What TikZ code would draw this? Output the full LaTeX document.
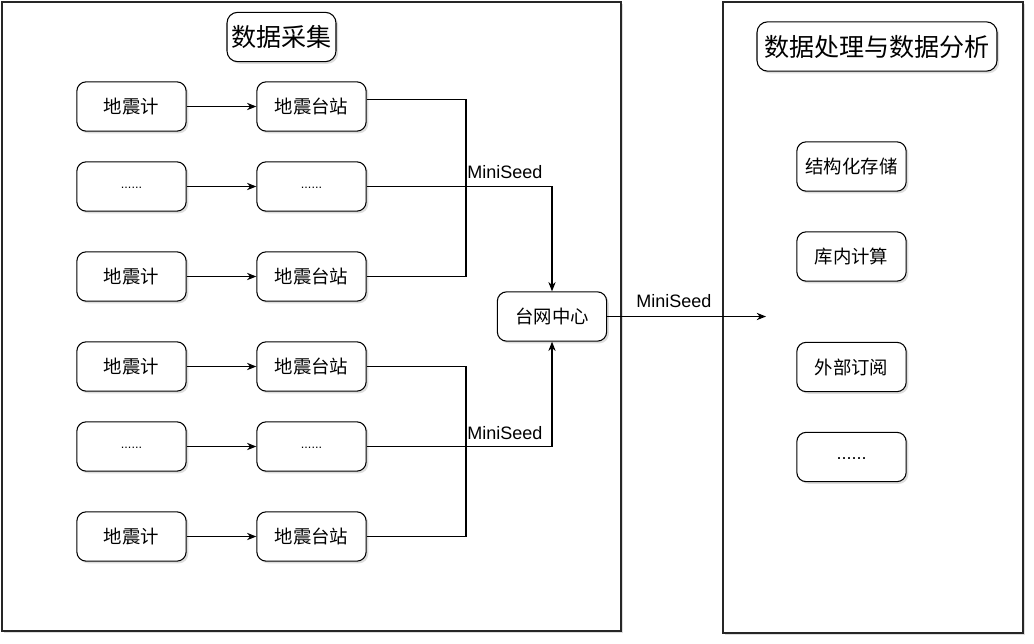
\documentclass[tikz,border=0pt]{standalone}
\usepackage{fontspec}
\setmainfont{Liberation Sans}
\newfontfamily\cjk{Noto Sans CJK SC}
\usetikzlibrary{shadows,arrows.meta}
\tikzset{
  shd/.style={drop shadow={shadow xshift=1.6pt,shadow yshift=-1.6pt,opacity=0.22,fill=black!60}},
  box/.style={draw=black,line width=0.8pt,rounded corners=7pt,fill=white,shd,
    minimum width=82pt,minimum height=37pt,inner sep=0pt,font=\cjk\fontsize{13.8}{15}\selectfont},
  dots/.style={box,font=\fontsize{9.5}{11}\selectfont},
  ttl/.style={box,rounded corners=8pt,minimum height=37pt,inner sep=3pt,font=\cjk\fontsize{18.8}{21}\selectfont},
  panel/.style={draw=black!85,line width=1.3pt,fill=white,shd,inner sep=0pt},
  wire/.style={line width=0.8pt},
  conn/.style={wire,-{Stealth[length=7pt,width=5.5pt]}},
  lbl/.style={font=\fontsize{13.5}{15}\selectfont,inner sep=0pt}
}
\newcommand{\lowdots}[1]{\raisebox{-#1}{......}}
\begin{document}
\begin{tikzpicture}[x=0.75pt,y=-0.75pt]
\useasboundingbox (0,0) rectangle (1034,643);
% panels
\node[panel,minimum width=619*0.75pt,minimum height=629*0.75pt] (lp) at (311.5,316.5) {};
\node[panel,minimum width=300*0.75pt,minimum height=631*0.75pt] (rp) at (873,317.5) {};
% titles
\node[ttl,minimum width=109*0.75pt] (t1) at (281.5,37) {数据采集};
\node[ttl,minimum width=240*0.75pt] (t2) at (877,46.5) {数据处理与数据分析};
% left column
\node[box] (g1) at (131.5,106.5) {地震计};
\node[dots] (g2) at (131.5,186.5) {\lowdots{3pt}};
\node[box] (g3) at (131.5,276.5) {地震计};
\node[box] (g4) at (131.5,366.5) {地震计};
\node[dots] (g5) at (131.5,446.5) {\lowdots{3pt}};
\node[box] (g6) at (131.5,536.5) {地震计};
% stations
\node[box] (s1) at (311.5,106.5) {地震台站};
\node[dots] (s2) at (311.5,186.5) {\lowdots{3pt}};
\node[box] (s3) at (311.5,276.5) {地震台站};
\node[box] (s4) at (311.5,366.5) {地震台站};
\node[dots] (s5) at (311.5,446.5) {\lowdots{3pt}};
\node[box] (s6) at (311.5,536.5) {地震台站};
% center
\node[box] (c) at (552,316.5) {台网中心};
% right boxes
\node[box] (r1) at (851.5,166.5) {结构化存储};
\node[box] (r2) at (851.5,256.5) {库内计算};
\node[box] (r3) at (851.5,367) {外部订阅};
\node[box,font=\fontsize{13.5}{15}\selectfont] (r4) at (851.5,457) {\lowdots{3.5pt}};
% junctions
\coordinate (j1) at (466,187);
\coordinate (j2) at (466,446);
\coordinate (e) at (766,316.5);
% arrows gauge -> station
\foreach \i in {1,...,6} {\draw[conn] (g\i) -- (s\i);}
% top group
\draw[wire] ([yshift=5.5pt]s1.east) -| (j1);
\draw[wire] (s3.east) -| (j1);
\draw[conn] (s2.east) -| (c.north);
% bottom group
\draw[wire] (s4.east) -| (j2);
\draw[wire] (s6.east) -| (j2);
\draw[conn] (s5.east) -| (c.south);
% output
\draw[conn] (c.east) -- (e);
% labels
\node[lbl,anchor=west] (m1) at (467,172) {MiniSeed};
\node[lbl,anchor=west] (m2) at (467,433) {MiniSeed};
\node[lbl,anchor=west] (m3) at (636,301) {MiniSeed};
\end{tikzpicture}
\end{document}
